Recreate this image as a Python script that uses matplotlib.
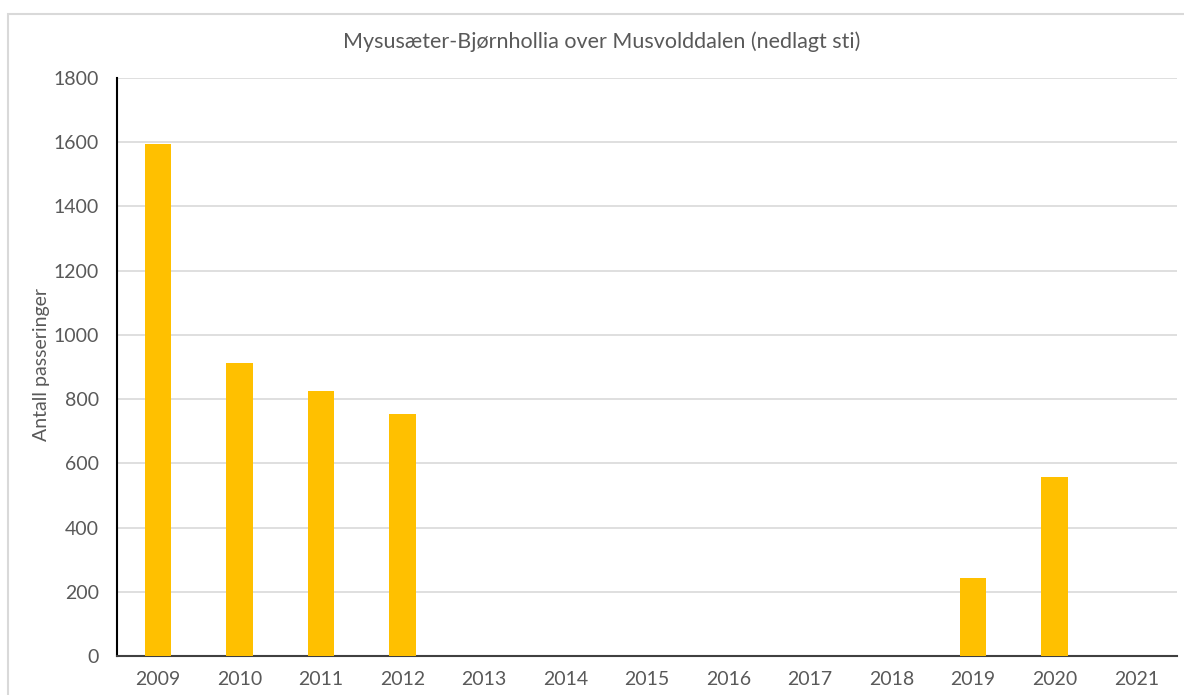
import matplotlib.pyplot as plt
from matplotlib.patches import Rectangle

years = ['2009', '2010', '2011', '2012', '2013', '2014', '2015',
         '2016', '2017', '2018', '2019', '2020', '2021']
passes = [1594, 912, 826, 755, 0, 0, 0, 0, 0, 0, 243, 557, 0]

plt.rcParams['font.family'] = ['Lato', 'DejaVu Sans']

fig = plt.figure(figsize=(11.84, 6.95), dpi=100)
fig.patches.append(Rectangle((8 / 1184, -0.02), 1.1, 0.02 + 1 - 14 / 695,
                             transform=fig.transFigure, fill=False,
                             edgecolor='#d9d9d9', linewidth=1.5))

ax = fig.add_axes([117 / 1184, 1 - 656 / 695, 1060 / 1184, 578 / 695])
x = range(len(years))
ax.bar(x, passes, width=0.325, color='#ffc000', zorder=3)

ax.set_xlim(-0.5, len(years) - 0.5)
ax.set_ylim(0, 1800)
ax.set_yticks(range(0, 1801, 200))
ax.set_xticks(list(x))
ax.set_xticklabels(years)
ax.grid(axis='y', color='#d9d9d9', linewidth=1.2, zorder=0)

for s in ['top', 'right']:
    ax.spines[s].set_visible(False)
ax.spines['left'].set_color('black')
ax.spines['left'].set_linewidth(1.5)
ax.spines['bottom'].set_color('#404040')
ax.spines['bottom'].set_linewidth(1.5)
ax.tick_params(length=0, labelsize=14, colors='#595959')
ax.tick_params(axis='y', pad=13)
ax.tick_params(axis='x', pad=11)

ax.set_ylabel('Antall passeringer', fontsize=14, color='#595959')
ax.yaxis.set_label_coords(-0.0708, 0.505)
ax.yaxis.label.set_va('center')
fig.text(602 / 1184, 1 - 42 / 695, 'Mysusæter-Bjørnhollia over Musvolddalen (nedlagt sti)',
         ha='center', va='center', fontsize=15.5, color='#595959')

fig.savefig('out.png', dpi=100)
